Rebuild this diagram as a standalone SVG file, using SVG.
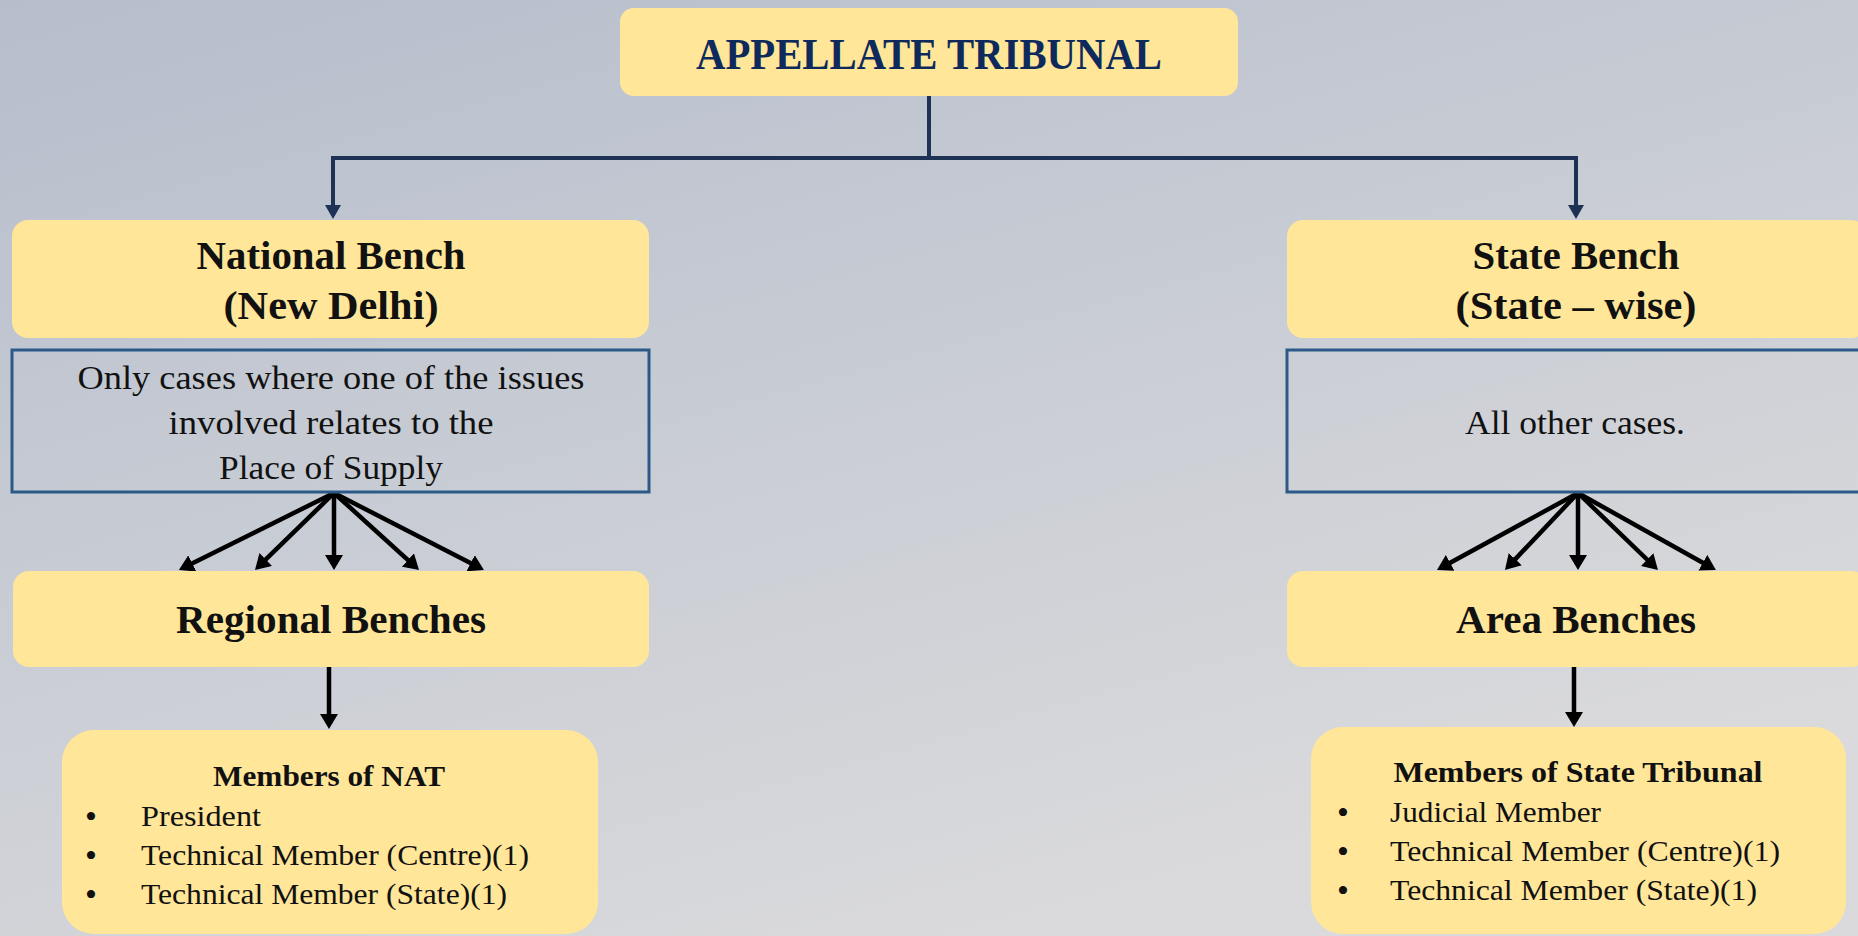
<svg xmlns="http://www.w3.org/2000/svg" width="1858" height="936" viewBox="0 0 1858 936">
<defs>
<linearGradient id="bg" x1="0" y1="0" x2="0.55" y2="1">
<stop offset="0" stop-color="#b6becc"/>
<stop offset="0.5" stop-color="#c8ccd4"/>
<stop offset="1" stop-color="#dadadc"/>
</linearGradient>
<marker id="ahNavy" markerUnits="userSpaceOnUse" viewBox="0 0 14 16" refX="2" refY="8" markerWidth="14" markerHeight="16" orient="auto">
<path d="M0,0 L14,8 L0,16 z" fill="#1e3255"/>
</marker>
<marker id="ahBlack" markerUnits="userSpaceOnUse" viewBox="0 0 15 18" refX="2" refY="9" markerWidth="15" markerHeight="18" orient="auto">
<path d="M0,0 L15,9 L0,18 z" fill="#000"/>
</marker>
<style>
.box{fill:#ffe699;}
.desc{fill:none;stroke:#2c5a88;stroke-width:3;}
.t{font-family:"Liberation Serif","DejaVu Serif",serif;fill:#111;}
.h{font-weight:bold;font-size:41px;text-anchor:middle;}
.d{font-size:34px;text-anchor:middle;}
.mh{font-weight:bold;font-size:30px;text-anchor:middle;}
.li{font-size:30px;}
.bu{font-size:34px;}
.navy{fill:none;stroke:#1e3255;stroke-width:4;}
.blk{fill:none;stroke:#000;stroke-width:4.5;}
</style>
</defs>
<rect width="1858" height="936" fill="url(#bg)"/>

<g id="connectors">
<path class="navy" d="M929,96 V158 M331,158 H1578"/>
<path class="navy" d="M333,158 V207" marker-end="url(#ahNavy)"/>
<path class="navy" d="M1576,158 V207" marker-end="url(#ahNavy)"/>
<path class="blk" d="M334,493 L190.5,564.3" marker-end="url(#ahBlack)"/>
<path class="blk" d="M334,493 L264.3,560.9" marker-end="url(#ahBlack)"/>
<path class="blk" d="M334,493 L334,557" marker-end="url(#ahBlack)"/>
<path class="blk" d="M334,493 L409.4,561.3" marker-end="url(#ahBlack)"/>
<path class="blk" d="M334,493 L472.4,564.1" marker-end="url(#ahBlack)"/>
<path class="blk" d="M1578,493 L1448.4,563.8" marker-end="url(#ahBlack)"/>
<path class="blk" d="M1578,493 L1513.9,560.6" marker-end="url(#ahBlack)"/>
<path class="blk" d="M1578,493 L1578,557" marker-end="url(#ahBlack)"/>
<path class="blk" d="M1578,493 L1648.6,561" marker-end="url(#ahBlack)"/>
<path class="blk" d="M1578,493 L1704.6,563.7" marker-end="url(#ahBlack)"/>
<path class="blk" d="M329,667 V716" marker-end="url(#ahBlack)"/>
<path class="blk" d="M1574,667 V714" marker-end="url(#ahBlack)"/>
</g>

<g id="appellate-tribunal">
<rect class="box" x="620" y="8" width="618" height="88" rx="14"/>
<text class="t" x="929" y="69" font-weight="bold" font-size="44" text-anchor="middle" style="fill:#0e2a5c" textLength="466" lengthAdjust="spacingAndGlyphs">APPELLATE TRIBUNAL</text>
</g>

<g id="national-bench">
<rect class="box" x="12" y="220" width="637" height="118" rx="16"/>
<text class="t h" x="331" y="269" textLength="269" lengthAdjust="spacingAndGlyphs">National Bench</text>
<text class="t h" x="331" y="319" textLength="215" lengthAdjust="spacingAndGlyphs">(New Delhi)</text>
</g>

<g id="national-scope">
<rect class="desc" x="12" y="350" width="637" height="142"/>
<text class="t d" x="331" y="389" textLength="507" lengthAdjust="spacingAndGlyphs">Only cases where one of the issues</text>
<text class="t d" x="331" y="434" textLength="325" lengthAdjust="spacingAndGlyphs">involved relates to the</text>
<text class="t d" x="331" y="479" textLength="224" lengthAdjust="spacingAndGlyphs">Place of Supply</text>
</g>

<g id="regional-benches">
<rect class="box" x="13" y="571" width="636" height="96" rx="16"/>
<text class="t h" x="331" y="633" textLength="310" lengthAdjust="spacingAndGlyphs">Regional Benches</text>
</g>

<g id="members-nat">
<rect class="box" x="62" y="730" width="536" height="204" rx="32"/>
<text class="t mh" x="329" y="786" textLength="232" lengthAdjust="spacingAndGlyphs">Members of NAT</text>
<text class="t bu" x="85" y="828">•</text>
<text class="t li" x="141" y="826" textLength="120" lengthAdjust="spacingAndGlyphs">President</text>
<text class="t bu" x="85" y="867">•</text>
<text class="t li" x="141" y="865" textLength="388" lengthAdjust="spacingAndGlyphs">Technical Member (Centre)(1)</text>
<text class="t bu" x="85" y="906">•</text>
<text class="t li" x="141" y="904" textLength="366" lengthAdjust="spacingAndGlyphs">Technical Member (State)(1)</text>
</g>

<g id="state-bench">
<rect class="box" x="1287" y="220" width="580" height="118" rx="16"/>
<text class="t h" x="1576" y="269" textLength="207" lengthAdjust="spacingAndGlyphs">State Bench</text>
<text class="t h" x="1576" y="319" textLength="241" lengthAdjust="spacingAndGlyphs">(State – wise)</text>
</g>

<g id="state-scope">
<rect class="desc" x="1287" y="350" width="580" height="142"/>
<text class="t d" x="1575" y="434" textLength="220" lengthAdjust="spacingAndGlyphs">All other cases.</text>
</g>

<g id="area-benches">
<rect class="box" x="1287" y="571" width="580" height="96" rx="16"/>
<text class="t h" x="1576" y="633" textLength="240" lengthAdjust="spacingAndGlyphs">Area Benches</text>
</g>

<g id="members-state">
<rect class="box" x="1311" y="727" width="535" height="207" rx="32"/>
<text class="t mh" x="1578" y="782" textLength="369" lengthAdjust="spacingAndGlyphs">Members of State Tribunal</text>
<text class="t bu" x="1337" y="824">•</text>
<text class="t li" x="1390" y="822" textLength="211" lengthAdjust="spacingAndGlyphs">Judicial Member</text>
<text class="t bu" x="1337" y="863">•</text>
<text class="t li" x="1390" y="861" textLength="390" lengthAdjust="spacingAndGlyphs">Technical Member (Centre)(1)</text>
<text class="t bu" x="1337" y="902">•</text>
<text class="t li" x="1390" y="900" textLength="367" lengthAdjust="spacingAndGlyphs">Technical Member (State)(1)</text>
</g>
</svg>
